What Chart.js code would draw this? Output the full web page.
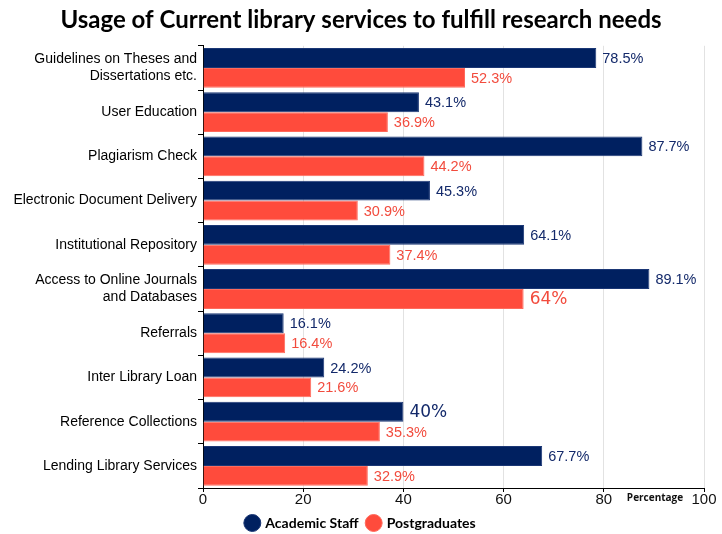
<!DOCTYPE html>
<html>
<head>
<meta charset="utf-8">
<script src="https://cdn.jsdelivr.net/npm/chart.js@4"></script>
<style>
  body { margin: 0; background: #fff; }
  #wrap { width: 722px; height: 534px; overflow: hidden; }
</style>
</head>
<body>
<div id="wrap"><canvas id="myBarChart"></canvas></div>
<script>
const categories = [
  ["Guidelines on Theses and", "Dissertations etc."],
  "User Education",
  "Plagiarism Check",
  "Electronic Document Delivery",
  "Institutional Repository",
  ["Access to Online Journals", "and Databases"],
  "Referrals",
  "Inter Library Loan",
  "Reference Collections",
  "Lending Library Services"
];
const academicStaff = [78.5, 43.1, 87.7, 45.3, 64.1, 89.1, 16.1, 24.2, 40, 67.7];
const postgraduates = [52.3, 36.9, 44.2, 30.9, 37.4, 64, 16.4, 21.6, 35.3, 32.9];
const xTicks = [0, 20, 40, 60, 80, 100];

const navy = "#002060";
const red = "#ff4b3c";

// value labels at the end of each bar
const barLabels = {
  id: "barLabels",
  afterDatasetsDraw(chart) {
    const ctx = chart.ctx;
    ctx.save();
    chart.data.datasets.forEach((ds, i) => {
      const meta = chart.getDatasetMeta(i);
      meta.data.forEach((bar, j) => {
        const v = ds.data[j];
        const big = Number.isInteger(v);
        ctx.font = big ? "17px 'DejaVu Sans'" : "14.5px 'Liberation Sans'";
        ctx.fillStyle = i === 0 ? "#13296a" : "#f24b3d";
        ctx.textAlign = "left";
        ctx.textBaseline = "middle";
        ctx.fillText(v + "%", bar.x + 6, bar.y + 1);
      });
    });
    // axis title sitting on the tick row
    const xs = chart.scales.x;
    ctx.font = "bold 10px 'Open Sans'";
    ctx.fillStyle = "#111";
    ctx.textAlign = "center";
    ctx.fillText("Percentage", 655, xs.top + 10);
    ctx.restore();
  }
};

new Chart(document.getElementById("myBarChart"), {
  type: "bar",
  data: {
    labels: categories,
    datasets: [
      {
        label: "Academic Staff",
        data: academicStaff,
        backgroundColor: navy,
        borderColor: "#1b3775",
        borderWidth: 1,
        categoryPercentage: 0.9,
        barPercentage: 1.0
      },
      {
        label: "Postgraduates",
        data: postgraduates,
        backgroundColor: red,
        borderColor: "#ff6a5c",
        borderWidth: 1,
        categoryPercentage: 0.9,
        barPercentage: 1.0
      }
    ]
  },
  plugins: [barLabels],
  options: {
    indexAxis: "y",
    responsive: true,
    maintainAspectRatio: false,
    animation: false,
    layout: { padding: { left: 0, right: 0, top: 0, bottom: -6 } },
    scales: {
      x: {
        min: 0,
        max: 100,
        afterBuildTicks: (s) => { s.ticks = xTicks.map(v => ({ value: v })); },
        afterFit: (s) => { s.paddingRight = 18; },
        grid: { color: "#e2e2e2", tickColor: "#000", tickLength: 4 },
        border: { color: "#000", width: 1 },
        ticks: { color: "#111", font: { family: "'Liberation Sans'", size: 15, lineHeight: 1 }, padding: 0 }
      },
      y: {
        afterFit: (s) => { s.width = 203; },
        grid: { drawOnChartArea: false, tickColor: "#000", tickLength: 5 },
        border: { color: "#000", width: 1 },
        ticks: { color: "#000", font: { family: "'Liberation Sans'", size: 14 }, padding: 1, autoSkip: false }
      }
    },
    plugins: {
      title: {
        display: true,
        text: "Usage of Current library services to fulfill research needs",
        color: "#000",
        font: { family: "Lato", size: 24, weight: "bold" },
        padding: { top: 6, bottom: 11 }
      },
      legend: {
        position: "bottom",
        labels: {
          usePointStyle: true,
          pointStyle: "circle",
          boxWidth: 12,
          boxHeight: 12,
          color: "#000",
          font: { family: "Lato", size: 14, weight: "bold" },
          padding: 9
        }
      },
      tooltip: { enabled: false }
    }
  }
});
</script>
</body>
</html>
